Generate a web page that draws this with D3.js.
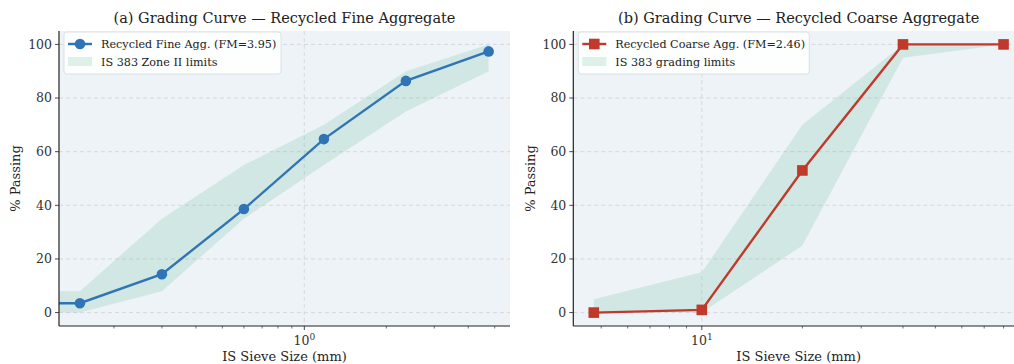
<!DOCTYPE html>
<html>
<head>
<meta charset="utf-8">
<script src="https://cdn.jsdelivr.net/npm/d3@7"></script>
<style>
  body { margin: 0; background: #fff; }
  svg { font-family: "DejaVu Serif", serif; display: block; }
</style>
</head>
<body>
<svg width="1014" height="364"></svg>
<script>
// fine aggregate (IS sieves, mm)
const fineSieve = [0.075, 0.15, 0.3, 0.6, 1.18, 2.36, 4.75];
const finePassing = [3.5, 3.5, 14.3, 38.6, 64.7, 86.4, 97.4];
const fineLower = [0, 0, 8, 35, 55, 75, 90];
const fineUpper = [8, 8, 35, 55, 70, 90, 100];

// coarse aggregate
const coarseSieve = [4.75, 10, 20, 40, 80];
const coarsePassing = [0, 1, 53, 100, 100];
const coarseLower = [0, 0, 25, 95, 100];
const coarseUpper = [5, 15, 70, 100, 100];

const yTicks = [0, 20, 40, 60, 80, 100];

const svg = d3.select("svg");

const panels = [
  {
    id: "a", title: "(a) Grading Curve \u2014 Recycled Fine Aggregate",
    sieve: fineSieve, passing: finePassing, lower: fineLower, upper: fineUpper,
    xDomain: [0.1257, 5.69], xRange: [59, 510],
    color: "#2f74b5", marker: "circle",
    label: "Recycled Fine Agg. (FM=3.95)", bandLabel: "IS 383 Zone II limits",
    legendW: 217, ylabelX: 15
  },
  {
    id: "b", title: "(b) Grading Curve \u2014 Recycled Coarse Aggregate",
    sieve: coarseSieve, passing: coarsePassing, lower: coarseLower, upper: coarseUpper,
    xDomain: [4.125, 92.1], xRange: [573.3, 1024],
    color: "#c0392b", marker: "square",
    label: "Recycled Coarse Agg. (FM=2.46)", bandLabel: "IS 383 grading limits",
    legendW: 231, ylabelX: 530
  }
];

const plotTop = 31, plotBottom = 326;
const y = d3.scaleLinear().domain([-5, 105]).range([plotBottom, plotTop]);

panels.forEach(p => {
  const x = d3.scaleLog().domain(p.xDomain).range(p.xRange);
  const g = svg.append("g");
  const x0 = p.xRange[0], x1 = p.xRange[1];

  g.append("clipPath").attr("id", "clip-" + p.id)
    .append("rect").attr("x", x0).attr("y", plotTop).attr("width", x1 - x0).attr("height", plotBottom - plotTop);

  g.append("rect")
    .attr("x", x0).attr("y", plotTop).attr("width", x1 - x0).attr("height", plotBottom - plotTop)
    .attr("fill", "#eef3f7");

  // grid
  g.selectAll(".hgrid").data(yTicks).enter().append("line")
    .attr("x1", x0).attr("x2", x1)
    .attr("y1", d => y(d)).attr("y2", d => y(d))
    .attr("stroke", "#cfd3d8").attr("stroke-width", 0.8).attr("stroke-dasharray", "4,3");

  const allTicks = x.ticks();
  const majors = allTicks.filter(d => Math.abs(Math.log10(d) - Math.round(Math.log10(d))) < 1e-9);
  const minors = allTicks.filter(d => majors.indexOf(d) < 0);

  g.selectAll(".vgrid").data(majors).enter().append("line")
    .attr("x1", d => x(d)).attr("x2", d => x(d))
    .attr("y1", plotTop).attr("y2", plotBottom)
    .attr("stroke", "#cfd3d8").attr("stroke-width", 0.8).attr("stroke-dasharray", "4,3");

  const plot = g.append("g").attr("clip-path", "url(#clip-" + p.id + ")");
  const idx = d3.range(p.sieve.length);

  const area = d3.area()
    .x(i => x(p.sieve[i]))
    .y0(i => y(p.lower[i]))
    .y1(i => y(p.upper[i]));

  plot.append("path").datum(idx)
    .attr("d", area)
    .attr("fill", "#2ca870").attr("fill-opacity", 0.15);

  const line = d3.line()
    .x(i => x(p.sieve[i]))
    .y(i => y(p.passing[i]));

  plot.append("path").datum(idx)
    .attr("d", line)
    .attr("fill", "none").attr("stroke", p.color).attr("stroke-width", 2.4);

  if (p.marker === "circle") {
    plot.selectAll(".pt").data(idx).enter().append("circle")
      .attr("cx", i => x(p.sieve[i])).attr("cy", i => y(p.passing[i]))
      .attr("r", 5.3).attr("fill", p.color);
  } else {
    plot.selectAll(".pt").data(idx).enter().append("rect")
      .attr("x", i => x(p.sieve[i]) - 5.3).attr("y", i => y(p.passing[i]) - 5.3)
      .attr("width", 10.6).attr("height", 10.6).attr("fill", p.color);
  }

  // axes
  const xAxis = g.append("g").attr("transform", "translate(0," + plotBottom + ")");
  xAxis.append("line").attr("x1", x0).attr("x2", x1).attr("y1", 0).attr("y2", 0)
    .attr("stroke", "#222").attr("stroke-width", 1.2);
  xAxis.selectAll(".minor").data(minors).enter().append("line")
    .attr("x1", d => x(d)).attr("x2", d => x(d)).attr("y1", 0).attr("y2", 2.5)
    .attr("stroke", "#333").attr("stroke-width", 0.7);
  xAxis.selectAll(".major").data(majors).enter().append("line")
    .attr("x1", d => x(d)).attr("x2", d => x(d)).attr("y1", 0).attr("y2", 4)
    .attr("stroke", "#333").attr("stroke-width", 0.9);
  const lab = xAxis.selectAll(".mlab").data(majors).enter().append("text")
    .attr("x", d => x(d)).attr("y", 19)
    .attr("text-anchor", "middle").attr("font-size", 12.5).attr("fill", "#333");
  lab.append("tspan").text("10");
  lab.append("tspan").attr("dy", -5).attr("font-size", 9).text(d => Math.round(Math.log10(d)));

  const yAxis = g.append("g").attr("transform", "translate(" + x0 + ",0)");
  yAxis.append("line").attr("x1", 0).attr("x2", 0).attr("y1", plotTop).attr("y2", plotBottom)
    .attr("stroke", "#222").attr("stroke-width", 1.2);
  yAxis.selectAll(".yt").data(yTicks).enter().append("line")
    .attr("x1", -4).attr("x2", 0).attr("y1", d => y(d)).attr("y2", d => y(d))
    .attr("stroke", "#333").attr("stroke-width", 0.9);
  yAxis.selectAll(".yl").data(yTicks).enter().append("text")
    .attr("x", -7).attr("y", d => y(d)).attr("dy", "0.35em")
    .attr("text-anchor", "end").attr("font-size", 12.5).attr("fill", "#333")
    .text(d => d);

  // labels
  const cx = (x0 + x1) / 2;
  g.append("text").attr("x", cx).attr("y", 23).attr("text-anchor", "middle")
    .attr("font-size", 14.5).attr("fill", "#222").text(p.title);
  g.append("text").attr("x", cx).attr("y", 360.5).attr("text-anchor", "middle")
    .attr("font-size", 13).attr("fill", "#222").text("IS Sieve Size (mm)");
  g.append("text")
    .attr("transform", "translate(" + p.ylabelX + "," + ((plotTop + plotBottom) / 2) + ") rotate(-90)")
    .attr("dy", "0.35em").attr("text-anchor", "middle")
    .attr("font-size", 13).attr("fill", "#222").text("% Passing");

  // legend
  const lg = g.append("g").attr("transform", "translate(" + (x0 + 5) + ",32)");
  lg.append("rect").attr("width", p.legendW).attr("height", 42).attr("rx", 3)
    .attr("fill", "#fff").attr("fill-opacity", 0.85)
    .attr("stroke", "#d6d9dd").attr("stroke-width", 0.8);
  lg.append("line").attr("x1", 4).attr("x2", 28).attr("y1", 12).attr("y2", 12)
    .attr("stroke", p.color).attr("stroke-width", 2.4);
  if (p.marker === "circle") {
    lg.append("circle").attr("cx", 16).attr("cy", 12).attr("r", 5.3).attr("fill", p.color);
  } else {
    lg.append("rect").attr("x", 10.7).attr("y", 6.7).attr("width", 10.6).attr("height", 10.6).attr("fill", p.color);
  }
  lg.append("rect").attr("x", 4).attr("y", 25).attr("width", 24).attr("height", 9)
    .attr("fill", "#2ca870").attr("fill-opacity", 0.15);
  lg.append("text").attr("x", 37).attr("y", 12).attr("dy", "0.35em")
    .attr("font-size", 11.2).attr("fill", "#222").text(p.label);
  lg.append("text").attr("x", 37).attr("y", 30).attr("dy", "0.35em")
    .attr("font-size", 11.2).attr("fill", "#222").text(p.bandLabel);
});
</script>
</body>
</html>
